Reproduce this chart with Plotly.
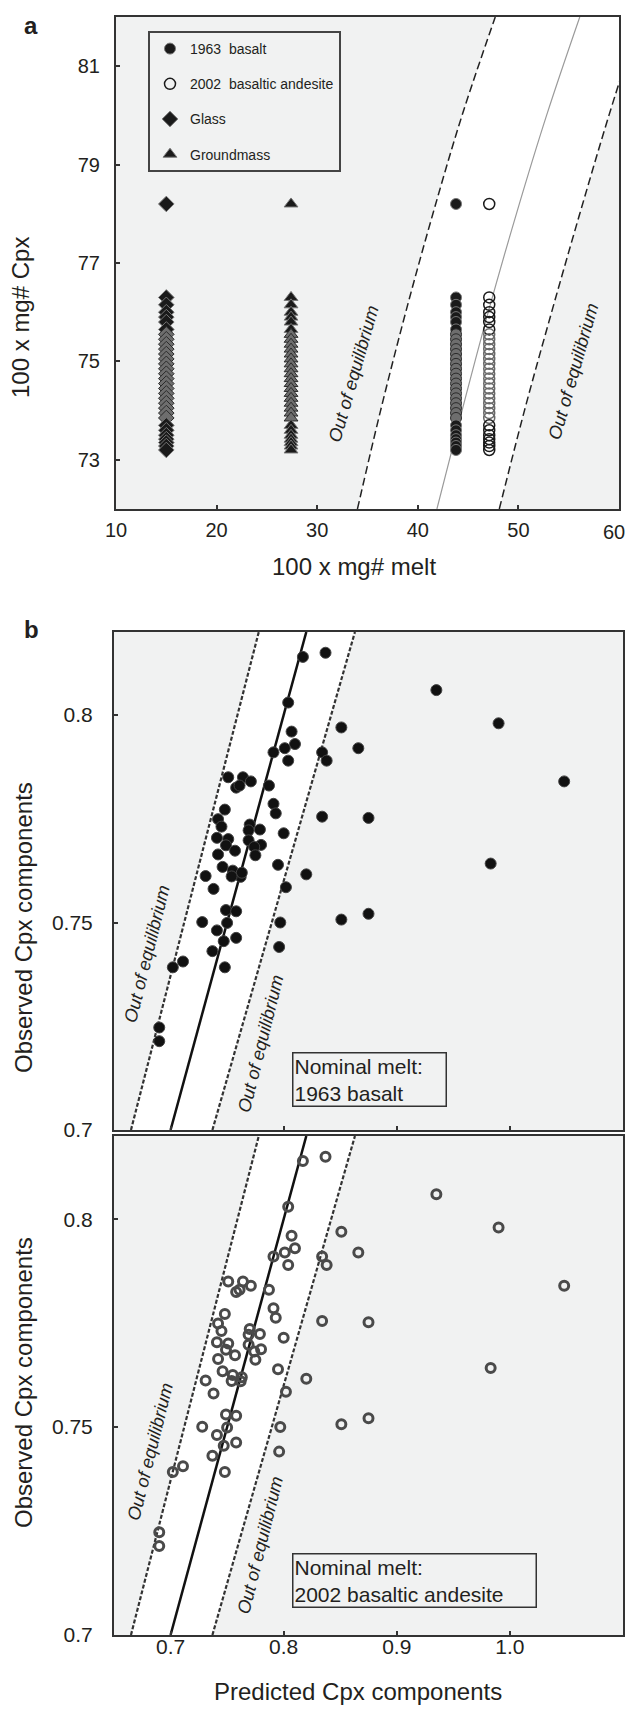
import plotly.graph_objects as go

W, H = 629, 1709

# ---------------- Panel a data ----------------
cpx_mg = [78.2, 76.3, 76.15, 76.0, 75.9, 75.8, 75.65, 75.55, 75.45, 75.35, 75.25,
          75.15, 75.05, 74.95, 74.85, 74.75, 74.65, 74.55, 74.45, 74.35, 74.25,
          74.15, 74.05, 73.95, 73.85, 73.7, 73.6, 73.5, 73.42, 73.35, 73.28, 73.2]
glass_melt = 15.0
groundmass_melt = 27.4
basalt1963_melt = 43.8
andesite2002_melt = 47.1

# equilibrium curves (melt mg# at given cpx mg#)
curve_cpx = [72, 74, 76, 78, 80, 82]
curve_mid = [41.9, 44.4, 47.0, 49.8, 52.8, 56.1]
curve_low = [34.0, 36.3, 38.8, 41.5, 44.4, 47.7]
curve_high = [48.1, 50.6, 53.3, 56.1, 59.0, 62.1]

a_xticks = [10, 20, 30, 40, 50, 60]
a_yticks = [73, 75, 77, 79, 81]

# ---------------- Panel b data ----------------
pred = [0.817, 0.837, 0.935, 0.804, 0.990, 0.851, 0.807, 0.810, 0.801, 0.791,
        0.866, 0.834, 0.838, 0.804, 1.048, 0.751, 0.764, 0.758, 0.761, 0.771,
        0.787, 0.791, 0.793, 0.748, 0.834, 0.875, 0.742, 0.745, 0.770, 0.769,
        0.779, 0.800, 0.741, 0.751, 0.769, 0.749, 0.757, 0.780, 0.774, 0.742,
        0.775, 0.983, 0.795, 0.820, 0.746, 0.755, 0.762, 0.731, 0.738, 0.802,
        0.749, 0.758, 0.728, 0.750, 0.741, 0.797, 0.851, 0.875, 0.747, 0.758,
        0.737, 0.796, 0.748, 0.702, 0.711, 0.690, 0.690, 0.763, 0.754]
obs = [0.814, 0.815, 0.806, 0.803, 0.798, 0.797, 0.796, 0.793, 0.792, 0.791,
       0.792, 0.791, 0.789, 0.789, 0.784, 0.785, 0.785, 0.7825, 0.783, 0.784,
       0.783, 0.7786, 0.7763, 0.7772, 0.7755, 0.7752, 0.7749, 0.7731, 0.7736, 0.7722,
       0.7724, 0.7715, 0.7704, 0.7701, 0.7698, 0.7686, 0.7673, 0.7687, 0.7682, 0.7664,
       0.7662, 0.7642, 0.7639, 0.7616, 0.7634, 0.7625, 0.761, 0.7612, 0.7581, 0.7585,
       0.7530, 0.7527, 0.7501, 0.7499, 0.7481, 0.7500, 0.7507, 0.7521, 0.7455, 0.7463,
       0.7431, 0.7441, 0.7392, 0.7392, 0.7406, 0.7247, 0.7214, 0.7620, 0.7611]

b_obs_line = [0.70, 0.82]
b_one_to_one = [0.70, 0.82]
b_dash_left = [0.665, 0.778]
b_dash_right = [0.737, 0.863]

b_xticks = [0.7, 0.8, 0.9, 1.0]
b_xticklabels = ["0.7", "0.8", "0.9", "1.0"]
b_yticks = [0.7, 0.75, 0.8]
b_yticklabels = ["0.7", "0.75", "0.8"]

GRAY_BG = "#f1f2f2"
TXT = "#231f20"
FONT = "Liberation Sans, Arial, Helvetica, sans-serif"

# marker shading along the stacked columns (darker at ends, greyer in the middle)
fill_shades = ["#1a1a1a" if (v > 75.6 or v < 73.75) else "#6e6e6e" for v in cpx_mg]
edge_shades = ["#777" if (v > 75.6 or v < 73.75) else "#2a2a2a" for v in cpx_mg]
ring_shades = ["#1a1a1a" if (v > 75.6 or v < 73.75) else "#6a6a6a" for v in cpx_mg]

fig = go.Figure()

# ---------- Panel a ----------
fig.add_trace(go.Scatter(x=curve_low + curve_high[::-1], y=curve_cpx + curve_cpx[::-1],
                         fill="toself", fillcolor="white", mode="lines",
                         line=dict(width=0), hoverinfo="skip", showlegend=False,
                         xaxis="x", yaxis="y"))
fig.add_trace(go.Scatter(x=curve_mid, y=curve_cpx, mode="lines",
                         line=dict(color="#9a9a9a", width=1.2, shape="spline"),
                         showlegend=False, xaxis="x", yaxis="y"))
for cv in (curve_low, curve_high):
    fig.add_trace(go.Scatter(x=cv, y=curve_cpx, mode="lines",
                             line=dict(color="#222", width=1.5, dash="8px,4px", shape="spline"),
                             showlegend=False, xaxis="x", yaxis="y"))

n = len(cpx_mg)
fig.add_trace(go.Scatter(x=[basalt1963_melt] * n, y=cpx_mg, mode="markers",
                         name="1963\u00a0 basalt", legendgroup="g1",
                         marker=dict(symbol="circle", size=11, color=fill_shades,
                                     line=dict(color=edge_shades, width=1)),
                         xaxis="x", yaxis="y"))
fig.add_trace(go.Scatter(x=[andesite2002_melt] * n, y=cpx_mg, mode="markers",
                         name="2002\u00a0 basaltic andesite", legendgroup="g2",
                         marker=dict(symbol="circle-open", size=11, color=ring_shades,
                                     line=dict(width=1.5)),
                         xaxis="x", yaxis="y"))
fig.add_trace(go.Scatter(x=[glass_melt] * n, y=cpx_mg, mode="markers",
                         name="Glass", legendgroup="g3",
                         marker=dict(symbol="diamond", size=12, color=fill_shades,
                                     line=dict(color=edge_shades, width=1)),
                         xaxis="x", yaxis="y"))
fig.add_trace(go.Scatter(x=[groundmass_melt] * n, y=cpx_mg, mode="markers",
                         name="Groundmass", legendgroup="g4",
                         marker=dict(symbol="triangle-up", size=12, color=fill_shades,
                                     line=dict(color=edge_shades, width=1)),
                         xaxis="x", yaxis="y"))

# ---------- Panel b (two subpanels) ----------
for xa, ya, filled in (("x2", "y2", True), ("x3", "y3", False)):
    fig.add_trace(go.Scatter(x=b_dash_left + b_dash_right[::-1],
                             y=b_obs_line + b_obs_line[::-1],
                             fill="toself", fillcolor="white", mode="lines",
                             line=dict(width=0), hoverinfo="skip", showlegend=False,
                             xaxis=xa, yaxis=ya))
    for cv in (b_dash_left, b_dash_right):
        fig.add_trace(go.Scatter(x=cv, y=b_obs_line, mode="lines",
                                 line=dict(color="#333", width=2.2, dash="4px,2px"),
                                 showlegend=False, xaxis=xa, yaxis=ya))
    fig.add_trace(go.Scatter(x=b_one_to_one, y=b_obs_line, mode="lines",
                             line=dict(color="#111", width=2.5),
                             showlegend=False, xaxis=xa, yaxis=ya))
    if filled:
        mk = dict(symbol="circle", size=11, color="#111", line=dict(color="#444", width=1))
    else:
        mk = dict(symbol="circle-open", size=9, color="#4a4a4a", line=dict(width=3))
    fig.add_trace(go.Scatter(x=pred, y=obs, mode="markers", marker=mk,
                             showlegend=False, xaxis=xa, yaxis=ya))

def px_x(p):
    return p / W

def px_y(p):
    return 1 - p / H

axis_common = dict(showline=True, mirror=True, linecolor="#333", linewidth=2,
                   ticks="inside", ticklen=4, tickwidth=2, tickcolor="#333",
                   showgrid=False, zeroline=False, automargin=False,
                   ticklabeloverflow="allow",
                   tickfont=dict(family=FONT, size=20, color=TXT))

# the last x label of panel a sits at the page edge; it is written as an annotation
a_xticklabels = [str(v) for v in a_xticks[:-1]] + [""]

fig.update_layout(
    width=W, height=H, margin=dict(l=0, r=0, t=0, b=0),
    paper_bgcolor="white", plot_bgcolor=GRAY_BG,
    font=dict(family=FONT, color=TXT),
    xaxis=dict(domain=[px_x(116), px_x(619)], range=[10, 60], anchor="y",
               tickvals=a_xticks, ticktext=a_xticklabels, ticklabelstandoff=2, **axis_common),
    yaxis=dict(domain=[px_y(509), px_y(17)], range=[72, 82], anchor="x",
               tickvals=a_yticks, ticklabelstandoff=10, **axis_common),
    xaxis2=dict(domain=[px_x(114), px_x(623)], range=[0.65, 1.1], anchor="y2",
                tickvals=b_xticks, showticklabels=False, **axis_common),
    yaxis2=dict(domain=[px_y(1130), px_y(632)], range=[0.7, 0.82], anchor="x2",
                tickvals=b_yticks, ticktext=b_yticklabels,
                ticklabelstandoff=15, **axis_common),
    xaxis3=dict(domain=[px_x(114), px_x(623)], range=[0.65, 1.1], anchor="y3",
                tickvals=b_xticks, ticktext=b_xticklabels,
                ticklabelstandoff=-8, **axis_common),
    yaxis3=dict(domain=[px_y(1635), px_y(1136)], range=[0.7, 0.82], anchor="x3",
                tickvals=b_yticks, ticktext=b_yticklabels,
                ticklabelstandoff=15, **axis_common),
    legend=dict(x=px_x(148), y=px_y(31), xanchor="left", yanchor="top",
                bgcolor=GRAY_BG, bordercolor="#444", borderwidth=2,
                font=dict(family=FONT, size=14, color=TXT),
                tracegroupgap=14, itemwidth=30),
)

for ax in ("yaxis2", "yaxis3", "xaxis3"):
    fig.layout[ax].tickfont.size = 21

ann = []
def A(text, x, y, size, **kw):
    d = dict(text=text, x=x, y=y, xref="paper", yref="paper", showarrow=False,
             xanchor="center", yanchor="middle",
             font=dict(family=FONT, size=size, color=TXT))
    d.update(kw)
    ann.append(d)

A(str(a_xticks[-1]), px_x(614), px_y(532), 20)
A("<b>a</b>", px_x(31), px_y(25), 24)
A("<b>b</b>", px_x(31), px_y(629), 24)
A("100 x mg# melt", px_x(354), px_y(567), 24)
A("100 x mg# Cpx", px_x(20), px_y(318), 24, textangle=-90)
A("Observed Cpx components", px_x(23), px_y(928), 24, textangle=-90)
A("Observed Cpx components", px_x(23), px_y(1383), 24, textangle=-90)
A("Predicted Cpx components", px_x(358), px_y(1691), 24)

# Out of equilibrium labels (data coordinates)
eq_font = dict(family=FONT, size=18, color=TXT)
for x, y, xr, yr, ang in ((33.6, 74.75, "x", "y", -74), (55.5, 74.8, "x", "y", -74),
                          (0.679, 0.7425, "x2", "y2", -76), (0.7795, 0.7208, "x2", "y2", -76),
                          (0.682, 0.7440, "x3", "y3", -76), (0.7795, 0.7216, "x3", "y3", -76)):
    ann.append(dict(text="<i>Out of equilibrium</i>", x=x, y=y, xref=xr, yref=yr,
                    showarrow=False, textangle=ang, font=eq_font,
                    xanchor="center", yanchor="middle"))

for txt, top, wd in (("Nominal melt:<br>1963 basalt", 1052, 150),
                     ("Nominal melt:<br>2002 basaltic andesite", 1553, 240)):
    A(txt, px_x(292), px_y(top), 21, xanchor="left", yanchor="top", align="left",
      width=wd, bgcolor=GRAY_BG, bordercolor="#333", borderwidth=1.5, borderpad=1)

fig.update_layout(annotations=ann)
fig.write_html("out.html", config={"displayModeBar": False},
               post_script="document.body.style.margin='0px';document.body.style.overflow='hidden';")
